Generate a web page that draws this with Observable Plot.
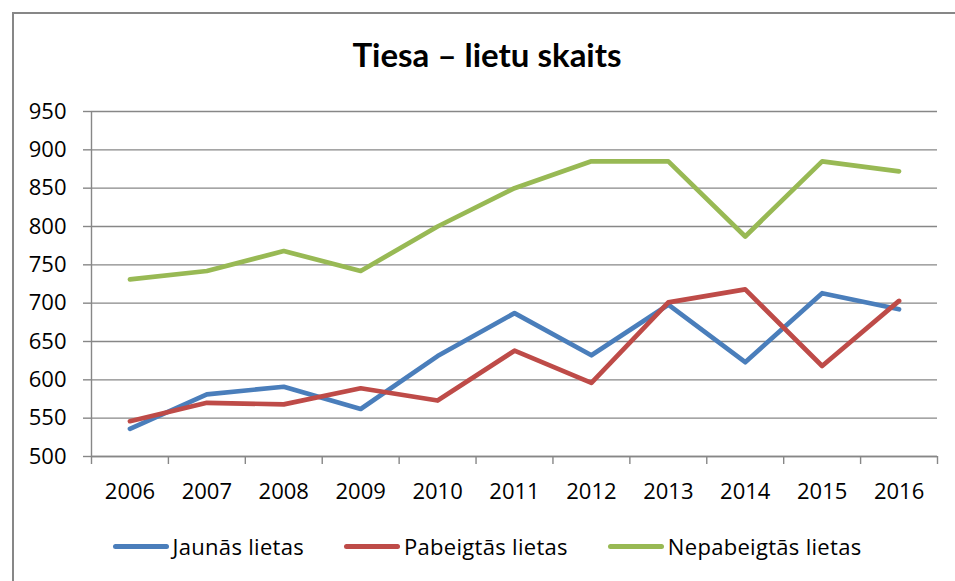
<!DOCTYPE html>
<html>
<head>
<meta charset="utf-8">
<script src="https://cdn.jsdelivr.net/npm/d3@7"></script>
<script src="https://cdn.jsdelivr.net/npm/@observablehq/plot@0.6"></script>
<style>
  html, body { margin: 0; padding: 0; background: #fff; }
  #wrap { position: relative; width: 955px; height: 581px; overflow: hidden; background: #fff; }
  #frame { position: absolute; left: 12px; top: 12px; width: 950px; height: 600px; border: 2px solid #878787; box-sizing: border-box; }
  #title { position: absolute; left: 12px; width: 950px; top: 34px; text-align: center;
           font-family: Lato, "Open Sans", sans-serif; font-weight: bold; font-size: 33px; color: #000; }
  #chart { position: absolute; left: 0; top: 0; }
  #legend { position: absolute; left: 12px; width: 950px; top: 531px; display: flex; justify-content: center; gap: 40px;
            font-family: "Open Sans", sans-serif; font-size: 22px; color: #000; letter-spacing: 0.3px; }
  .item { display: flex; align-items: center; }
  .swatch { width: 56px; height: 5px; border-radius: 3px; margin-right: 4px; }
</style>
</head>
<body>
<div id="wrap">
  <div id="frame"></div>
  <div id="title">Tiesa – lietu skaits</div>
  <div id="chart"></div>
  <div id="legend"></div>
</div>
<script>
const years = [2006, 2007, 2008, 2009, 2010, 2011, 2012, 2013, 2014, 2015, 2016];
const jaunas = [536, 581, 591, 562, 631, 687, 632, 698, 623, 713, 692];
const pabeigtas = [546, 570, 568, 589, 573, 638, 596, 701, 718, 618, 703];
const nepabeigtas = [731, 742, 768, 742, 800, 850, 885, 885, 787, 885, 872];
const seriesNames = ["Jaunās lietas", "Pabeigtās lietas", "Nepabeigtās lietas"];
const seriesColors = ["#4A7EBB", "#BE4B48", "#98B954"];
const yTicks = [500, 550, 600, 650, 700, 750, 800, 850, 900, 950];

const seriesValues = [jaunas, pabeigtas, nepabeigtas];
const data = [];
seriesNames.forEach((name, s) => {
  years.forEach((yr, i) => data.push({series: name, year: yr, value: seriesValues[s][i]}));
});

const xDomain = [years[0] - 0.5, years[years.length - 1] + 0.5];
const boundaries = years.map(y => y - 0.5).concat([years[years.length - 1] + 0.5]);

const font = '"Open Sans", sans-serif';
const plot = Plot.plot({
  width: 955,
  height: 581,
  marginLeft: 91,
  marginRight: 18,
  marginTop: 111,
  marginBottom: 125,
  style: {fontFamily: font, fontSize: "22px", color: "#000", background: "transparent"},
  x: {type: "linear", domain: xDomain},
  y: {domain: [yTicks[0], yTicks[yTicks.length - 1]]},
  color: {domain: seriesNames, range: seriesColors},
  marks: [
    Plot.gridY(yTicks, {stroke: "#878787", strokeOpacity: 1, strokeWidth: 1.4}),
    Plot.axisY({ticks: yTicks, tickSize: 8, tickPadding: 17, stroke: "#878787", strokeWidth: 1.4, label: null, fill: "#000"}),
    Plot.ruleX([xDomain[0]], {stroke: "#878787", strokeWidth: 1.4}),
    Plot.ruleY([yTicks[0]], {stroke: "#878787", strokeWidth: 1.4}),
    Plot.axisX({ticks: boundaries, tickSize: 8, tickFormat: () => "", stroke: "#878787", strokeWidth: 1.4, label: null}),
    Plot.axisX({ticks: years, tickSize: 0, tickPadding: 27, tickFormat: d => String(d), label: null, fill: "#000"}),
    Plot.line(data, {x: "year", y: "value", z: "series", stroke: "series", strokeWidth: 4.7,
                     strokeLinecap: "round", strokeLinejoin: "round"})
  ]
});
document.getElementById("chart").appendChild(plot);

const legend = document.getElementById("legend");
seriesNames.forEach((name, i) => {
  const item = document.createElement("div");
  item.className = "item";
  const sw = document.createElement("span");
  sw.className = "swatch";
  sw.style.background = seriesColors[i];
  const label = document.createElement("span");
  label.textContent = name;
  item.appendChild(sw);
  item.appendChild(label);
  legend.appendChild(item);
});
</script>
</body>
</html>
